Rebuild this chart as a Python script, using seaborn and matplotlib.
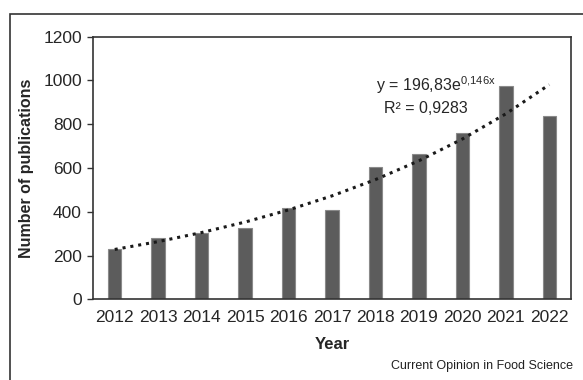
import seaborn as sns
import numpy as np
import pandas as pd
import matplotlib.pyplot as plt
from matplotlib.patches import Rectangle

# data
years = ['2012', '2013', '2014', '2015', '2016', '2017', '2018', '2019', '2020', '2021', '2022']
publications = [228, 279, 303, 324, 417, 407, 603, 662, 758, 973, 837]
# exponential trendline shown on the chart: y = 196,83 e^(0,146x)
trend_a = 196.83
trend_b = 0.146
y_ticks = [0, 200, 400, 600, 800, 1000, 1200]

df = pd.DataFrame({'Year': years, 'Publications': publications})

sns.set_style('white')
plt.rcParams['font.family'] = ['Liberation Sans', 'DejaVu Sans']
plt.rcParams['mathtext.fontset'] = 'custom'
plt.rcParams['mathtext.rm'] = 'Liberation Sans'

fig = plt.figure(figsize=(5.83, 3.8), dpi=100)
ax = fig.add_axes([0.1595, 0.2124, 0.9794 - 0.1595, 0.9034 - 0.2124])

sns.barplot(data=df, x='Year', y='Publications', color='#5c5c5c', width=0.31,
            edgecolor='#8a8a8a', linewidth=0.8, saturation=1, ax=ax)

# trendline through the category positions (x = 1..11 in the spreadsheet)
xs = np.arange(len(years))
trend = trend_a * np.exp(trend_b * (xs + 1))
ax.plot(xs, trend, linestyle=(0, (1, 1.6)), color='#1a1a1a', linewidth=2.2)

ax.set_ylim(0, 1200)
ax.set_xlim(-0.5, len(years) - 0.5)
ax.set_yticks(y_ticks)
ax.tick_params(axis='y', direction='out', length=4, width=1, color='#333333',
               labelsize=12.5, pad=4, left=True)
ax.tick_params(axis='x', length=0, labelsize=12.5, pad=8)
for s in ax.spines.values():
    s.set_visible(True)
    s.set_color('#333333')
    s.set_linewidth(1.2)

ax.set_xlabel('Year', fontsize=12, fontweight='bold', labelpad=8)
ax.set_ylabel('Number of publications', fontsize=11.5, fontweight='bold', labelpad=7)

ax.text(0.718, 0.815, r'y = 196,83e$^{\mathregular{0{,}146x}}$', transform=ax.transAxes,
        ha='center', va='center', fontsize=11.5)
ax.text(0.696, 0.725, 'R² = 0,9283', transform=ax.transAxes,
        ha='center', va='center', fontsize=11.5)

fig.text(573 / 583, 1 - 366 / 380, 'Current Opinion in Food Science',
         ha='right', va='center', fontsize=9, color='#222222')

# frame around the whole figure (cut off on right and bottom in the reference)
fig.patches.append(Rectangle((10 / 583, -0.05), 1.2, 1 - 14 / 380 + 0.05,
                             transform=fig.transFigure, fill=False,
                             edgecolor='#333333', linewidth=1.2))

fig.savefig('out.png', dpi=100)
